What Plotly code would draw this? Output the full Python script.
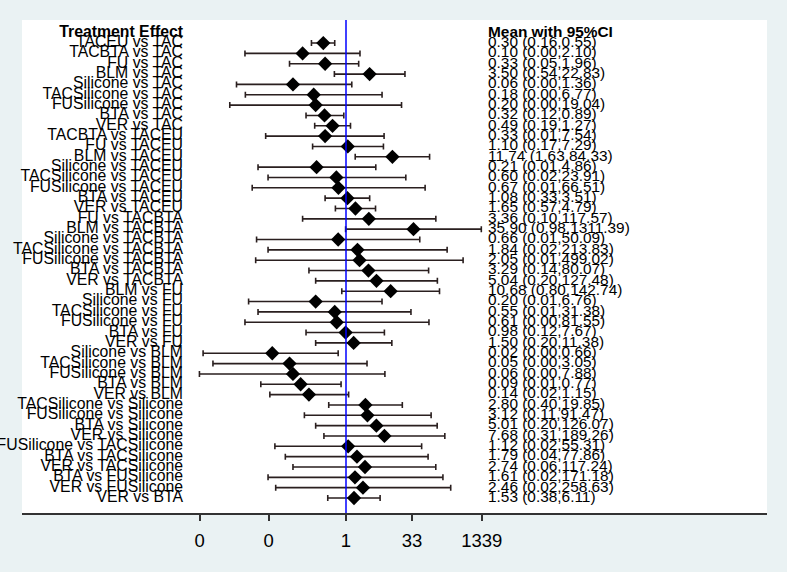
import math
import plotly.graph_objects as go

# comparisons, top to bottom
comparisons = [
    "TACEU vs TAC", "TACBTA vs TAC", "FU vs TAC", "BLM vs TAC", "Silicone vs TAC",
    "TACSilicone vs TAC", "FUSilicone vs TAC", "BTA vs TAC", "VER vs TAC",
    "TACBTA vs TACEU", "FU vs TACEU", "BLM vs TACEU", "Silicone vs TACEU",
    "TACSilicone vs TACEU", "FUSilicone vs TACEU", "BTA vs TACEU", "VER vs TACEU",
    "FU vs TACBTA", "BLM vs TACBTA", "Silicone vs TACBTA", "TACSilicone vs TACBTA",
    "FUSilicone vs TACBTA", "BTA vs TACBTA", "VER vs TACBTA",
    "BLM vs FU", "Silicone vs FU", "TACSilicone vs FU", "FUSilicone vs FU",
    "BTA vs FU", "VER vs FU",
    "Silicone vs BLM", "TACSilicone vs BLM", "FUSilicone vs BLM", "BTA vs BLM",
    "VER vs BLM",
    "TACSilicone vs Silicone", "FUSilicone vs Silicone", "BTA vs Silicone",
    "VER vs Silicone",
    "FUSilicone vs TACSilicone", "BTA vs TACSilicone", "VER vs TACSilicone",
    "BTA vs FUSilicone", "VER vs FUSilicone", "VER vs BTA",
]

mean = [
    0.30, 0.10, 0.33, 3.50, 0.06, 0.18, 0.20, 0.32, 0.49,
    0.33, 1.10, 11.74, 0.21, 0.60, 0.67, 1.08, 1.65,
    3.36, 35.90, 0.66, 1.84, 2.05, 3.29, 5.04,
    10.68, 0.20, 0.55, 0.61, 0.98, 1.50,
    0.02, 0.05, 0.06, 0.09, 0.14,
    2.80, 3.12, 5.01, 7.68,
    1.12, 1.79, 2.74, 1.61, 2.46, 1.53,
]

lower = [
    0.16, 0.0047, 0.05, 0.54, 0.0030, 0.0048, 0.0021, 0.12, 0.19,
    0.0141, 0.17, 1.63, 0.0094, 0.016, 0.0069, 0.33, 0.57,
    0.10, 0.98, 0.0087, 0.016, 0.0083, 0.14, 0.20,
    0.80, 0.0057, 0.0094, 0.0047, 0.12, 0.20,
    0.00051, 0.00086, 0.00042, 0.0109, 0.0176,
    0.40, 0.11, 0.20, 0.31,
    0.023, 0.04, 0.06, 0.016, 0.024, 0.38,
]

upper = [
    0.55, 2.10, 1.96, 22.83, 1.36, 6.77, 19.04, 0.89, 1.27,
    7.54, 7.29, 84.33, 4.86, 23.91, 66.51, 3.51, 4.79,
    117.57, 1311.39, 50.09, 213.83, 499.02, 80.07, 127.48,
    142.74, 6.76, 31.38, 81.55, 7.67, 11.38,
    0.66, 3.05, 7.88, 0.77, 1.15,
    19.85, 91.47, 126.07, 189.26,
    55.31, 77.86, 117.24, 171.18, 258.63, 6.11,
]

tick_vals = [math.exp(-7.77), math.exp(-4.1), 1, math.exp(3.5), math.exp(7.2)]
tick_text = ["0", "0", "1", "33", "1339"]

rows = list(range(1, len(comparisons) + 1))
ci_text = [f"{m:.2f} ({l:.2f},{u:.2f})" for m, l, u in zip(mean, lower, upper)]

xr = [-7.465, 9.70]


def paper_to_x(frac):
    return 10 ** (xr[0] + frac * (xr[1] - xr[0]))


label_x = paper_to_x((183 - 22) / 745)
ci_x = paper_to_x((488 - 22) / 745)

font_fam = "Arial, Liberation Sans, sans-serif"

fig = go.Figure()

fig.add_trace(go.Scatter(
    x=mean, y=rows, mode="markers",
    marker=dict(symbol="diamond", size=11, color="black"),
    error_x=dict(
        type="data", symmetric=False,
        array=[u - m for m, u in zip(mean, upper)],
        arrayminus=[m - l for m, l in zip(mean, lower)],
        color="#2a1f1f", thickness=1.6, width=3,
    ),
    showlegend=False, hoverinfo="skip",
))

fig.add_trace(go.Scatter(
    x=[label_x] * (len(rows) + 1), y=[0] + rows, mode="text",
    text=["<b>Treatment Effect</b>"] + comparisons,
    textposition="middle left",
    textfont=dict(family=font_fam, size=15.8, color="black"),
    cliponaxis=False, showlegend=False, hoverinfo="skip",
))

fig.add_trace(go.Scatter(
    x=[ci_x] * (len(rows) + 1), y=[0] + rows, mode="text",
    text=["<b>Mean with 95%CI</b>"] + ci_text,
    textposition="middle right",
    textfont=dict(family=font_fam, size=15.4, color="black"),
    cliponaxis=False, showlegend=False, hoverinfo="skip",
))

fig.add_shape(type="line", xref="x", yref="paper", x0=1, x1=1, y0=0, y1=1,
              line=dict(color="blue", width=1.5))

fig.update_layout(
    width=787, height=572,
    margin=dict(l=22, r=20, t=20, b=59),
    paper_bgcolor="#EAF2F3",
    plot_bgcolor="white",
    font=dict(family=font_fam, size=15, color="black"),
    xaxis=dict(
        type="log", range=xr, showgrid=False, zeroline=False,
        showline=True, linecolor="#333333", linewidth=1.5,
        ticks="outside", ticklen=6, tickwidth=1.5, tickcolor="#333333",
        tickvals=tick_vals, ticktext=tick_text,
        tickfont=dict(size=18.5, color="black"),
        ticklabelstandoff=4,
    ),
    yaxis=dict(range=[46.45, -1.23], visible=False),
)

# drop the page's default body margin so the figure sits at the corner
fig.write_html(
    "out.html",
    config={"displayModeBar": False},
    post_script="document.body.style.margin='0';"
                "document.body.style.background='#EAF2F3';",
)
